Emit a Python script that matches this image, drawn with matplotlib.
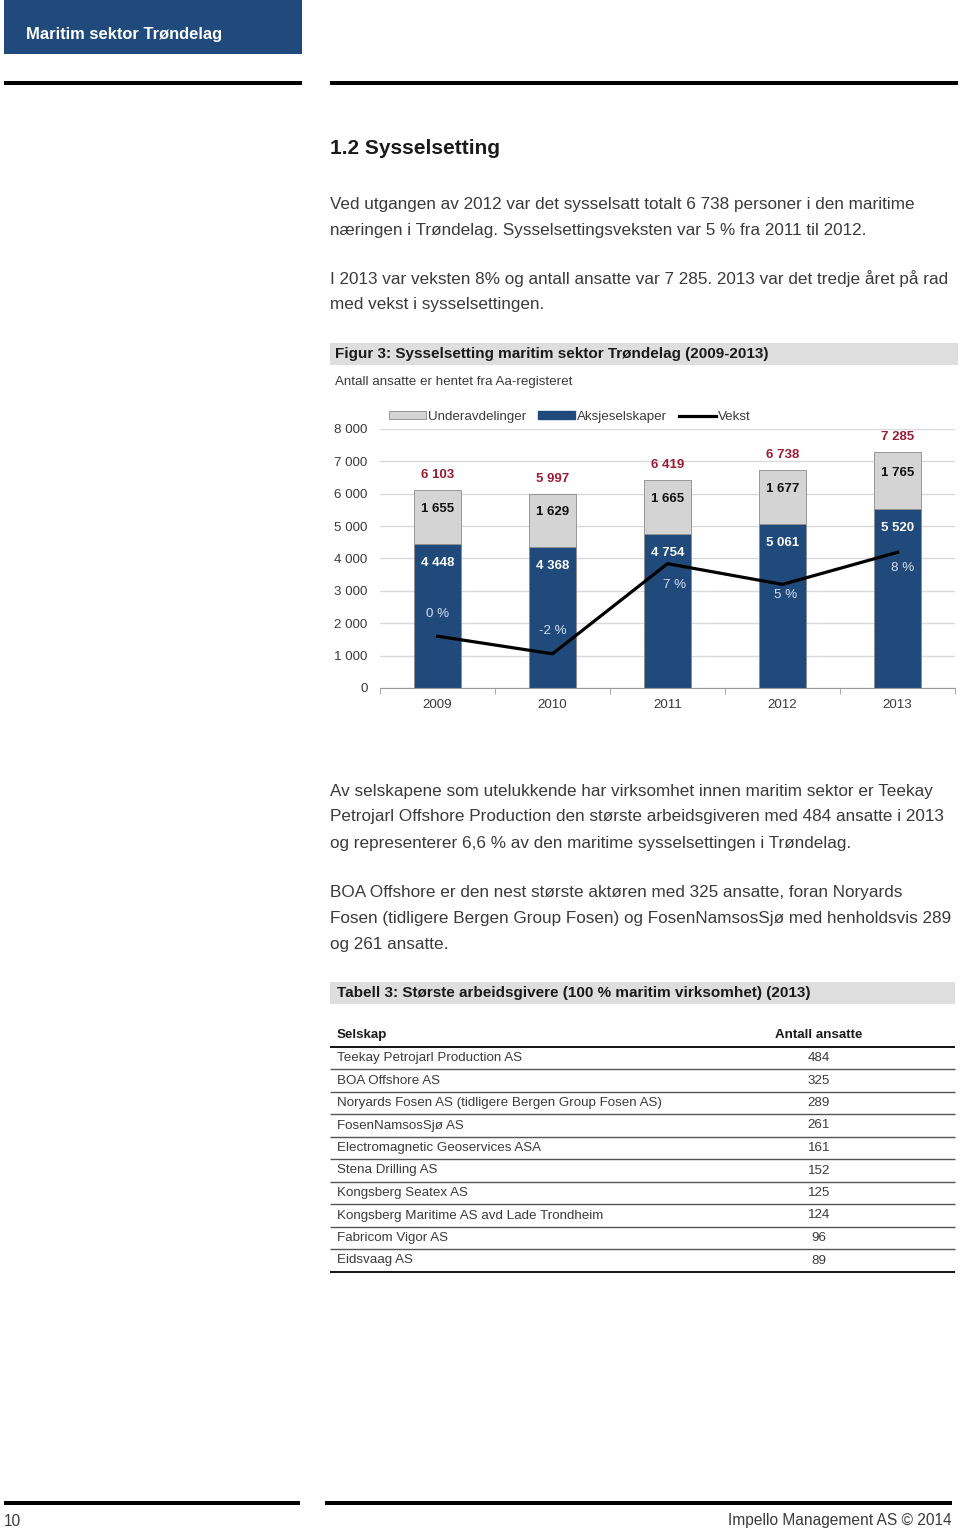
import matplotlib.pyplot as plt
from matplotlib.patches import Rectangle, Patch
from matplotlib.lines import Line2D

# data
years = ["2009", "2010", "2011", "2012", "2013"]
aksjeselskaper = [4448, 4368, 4754, 5061, 5520]
underavdelinger = [1655, 1629, 1665, 1677, 1765]
vekst = [0.000, -0.017, 0.070, 0.050, 0.081]

selskap = ["Teekay Petrojarl Production AS", "BOA Offshore AS",
           "Noryards Fosen AS (tidligere Bergen Group Fosen AS)", "FosenNamsosSjø AS",
           "Electromagnetic Geoservices ASA", "Stena Drilling AS", "Kongsberg Seatex AS",
           "Kongsberg Maritime AS avd Lade Trondheim", "Fabricom Vigor AS", "Eidsvaag AS"]
ansatte = [484, 325, 289, 261, 161, 152, 125, 124, 96, 89]

plt.rcParams["font.family"] = ["Liberation Sans", "DejaVu Sans"]

W, H = 960, 1530
fig = plt.figure(figsize=(W / 100, H / 100), dpi=100)
BLUE = "#1f4a7b"
GRAY = "#d4d4d4"
TXT = "#3a3a3a"
RED = "#9b1b33"


def fx(x):
    return x / W


def fy(y):
    return 1 - y / H


def box(x0, y0, x1, y1, color):
    fig.add_artist(Rectangle((fx(x0), fy(y1)), fx(x1 - x0), (y1 - y0) / H,
                             transform=fig.transFigure, color=color, lw=0))


def txt(x, y, s, **kw):
    kw.setdefault("color", TXT)
    kw.setdefault("va", "center")
    fig.text(fx(x), fy(y), s, **kw)


def hline(x0, x1, y, lw, color="black"):
    fig.add_artist(Line2D([fx(x0), fx(x1)], [fy(y), fy(y)], transform=fig.transFigure,
                          lw=lw, color=color, solid_capstyle="butt"))


# page header
box(4, 0, 302, 54, BLUE)
txt(26, 34, "Maritim sektor Trøndelag", color="white", fontsize=11.9, fontweight="bold")
box(4, 81, 302, 85, "black")
box(330, 81, 958, 85, "black")

txt(330, 148, "1.2 Sysselsetting", fontsize=15, fontweight="bold", color="#1a1a1a")

para = [(204, "Ved utgangen av 2012 var det sysselsatt totalt 6 738 personer i den maritime"),
        (230, "næringen i Trøndelag. Sysselsettingsveksten var 5 % fra 2011 til 2012."),
        (279, "I 2013 var veksten 8% og antall ansatte var 7 285. 2013 var det tredje året på rad"),
        (305, "med vekst i sysselsettingen."),
        (791, "Av selskapene som utelukkende har virksomhet innen maritim sektor er Teekay"),
        (817, "Petrojarl Offshore Production den største arbeidsgiveren med 484 ansatte i 2013"),
        (843, "og representerer 6,6 % av den maritime sysselsettingen i Trøndelag."),
        (892, "BOA Offshore er den nest største aktøren med 325 ansatte, foran Noryards"),
        (918, "Fosen (tidligere Bergen Group Fosen) og FosenNamsosSjø med henholdsvis 289"),
        (944, "og 261 ansatte.")]
for y, s in para:
    txt(330, y, s, fontsize=12.35)

# figure caption
box(330, 343, 958, 365, "#dedede")
txt(335, 354, "Figur 3: Sysselsetting maritim sektor Trøndelag (2009-2013)",
    fontsize=11, fontweight="bold", color="#1a1a1a")
txt(335, 382, "Antall ansatte er hentet fra Aa-registeret", fontsize=9.6)

# chart
ax = fig.add_axes([fx(380), fy(688), fx(955 - 380), (688 - 429) / H])
x = range(len(years))
totals = [a + u for a, u in zip(aksjeselskaper, underavdelinger)]
ax.bar(x, aksjeselskaper, width=0.41, color=BLUE, edgecolor="#8a8a8a", lw=0.6, zorder=2)
ax.bar(x, underavdelinger, bottom=aksjeselskaper, width=0.41, color=GRAY,
       edgecolor="#8a8a8a", lw=0.6, zorder=2)
ax.set_xlim(-0.5, len(years) - 0.5)
ax.set_ylim(0, 8000)
ax.set_yticks(range(0, 8001, 1000))
ax.set_yticklabels([f"{v:,}".replace(",", " ") for v in range(0, 8001, 1000)])
ax.set_xticks(list(x))
ax.set_xticklabels(years)
ax.set_xticks([i - 0.5 for i in range(len(years) + 1)], minor=True)
ax.tick_params(axis="x", which="major", length=0, pad=8, labelsize=9.6, labelcolor=TXT)
ax.tick_params(axis="x", which="minor", length=4, color="#999999")
ax.tick_params(axis="y", length=0, pad=9, labelsize=9.6, labelcolor=TXT)
ax.grid(axis="y", color="#d9d9d9", lw=1, zorder=0)
for sp in ["top", "right", "left"]:
    ax.spines[sp].set_visible(False)
ax.spines["bottom"].set_color("#999999")

for i in x:
    ax.annotate(f"{totals[i]:,}".replace(",", " "), (i, totals[i]), xytext=(0, 15),
                textcoords="offset pixels", ha="center", va="center",
                fontsize=9.5, fontweight="bold", color=RED)
    ax.annotate(f"{underavdelinger[i]:,}".replace(",", " "),
                (i, aksjeselskaper[i] + underavdelinger[i] / 2), xytext=(0, 8),
                textcoords="offset pixels", ha="center", va="center",
                fontsize=9.5, fontweight="bold", color="#111111")
    ax.annotate(f"{aksjeselskaper[i]:,}".replace(",", " "), (i, aksjeselskaper[i]),
                xytext=(0, -19), textcoords="offset pixels", ha="center", va="center",
                fontsize=9.5, fontweight="bold", color="white")

ax2 = ax.twinx()
ax2.plot(list(x), vekst, color="black", lw=2.3, zorder=3)
ax2.set_ylim(-0.05, 0.20)
ax2.axis("off")
pct_off = [(0, 22), (0, 23), (7, -21), (3, -11), (5, -16)]
for i, (dx, dy) in zip(x, pct_off):
    ax2.annotate(f"{round(vekst[i] * 100):.0f} %", (i, vekst[i]), xytext=(dx, dy),
                 textcoords="offset pixels", ha="center", va="center",
                 fontsize=9.6, color="#d6deea")

handles = [Patch(facecolor=GRAY, edgecolor="#8a8a8a", lw=0.6),
           Patch(facecolor=BLUE, edgecolor=BLUE),
           Line2D([0], [0], color="black", lw=2.3)]
fig.legend(handles, ["Underavdelinger", "Aksjeselskaper", "Vekst"], loc="center left",
           bbox_to_anchor=(fx(377), fy(417)), ncol=3, frameon=False, fontsize=9.6,
           handlelength=2.8, handleheight=0.55, handletextpad=0.15, columnspacing=0.85,
           labelcolor=TXT)

# table
box(330, 982, 955, 1004, "#dedede")
txt(337, 993, "Tabell 3: Største arbeidsgivere (100 % maritim virksomhet) (2013)",
    fontsize=11, fontweight="bold", color="#1a1a1a")
txt(337, 1035, "Selskap", fontsize=9.6, fontweight="bold", color="#1a1a1a")
txt(819, 1035, "Antall ansatte", fontsize=9.6, fontweight="bold", color="#1a1a1a", ha="center")
hline(330, 955, 1047, 1.3)
for k, (s, n) in enumerate(zip(selskap, ansatte)):
    yc = 1058 + 22.5 * k
    txt(337, yc, s, fontsize=9.6)
    txt(819, yc, str(n), fontsize=9.6, ha="center")
    last = k == len(selskap) - 1
    hline(330, 955, yc + 11.25, 1.3 if last else 1.0, "black" if last else "#555555")

# footer
box(4, 1501, 300, 1505, "black")
box(325, 1501, 952, 1505, "black")
txt(4, 1521, "10", fontsize=11.2)
txt(952, 1521, "Impello Management AS © 2014", fontsize=11.2, ha="right")

fig.savefig("out.png", dpi=100)
